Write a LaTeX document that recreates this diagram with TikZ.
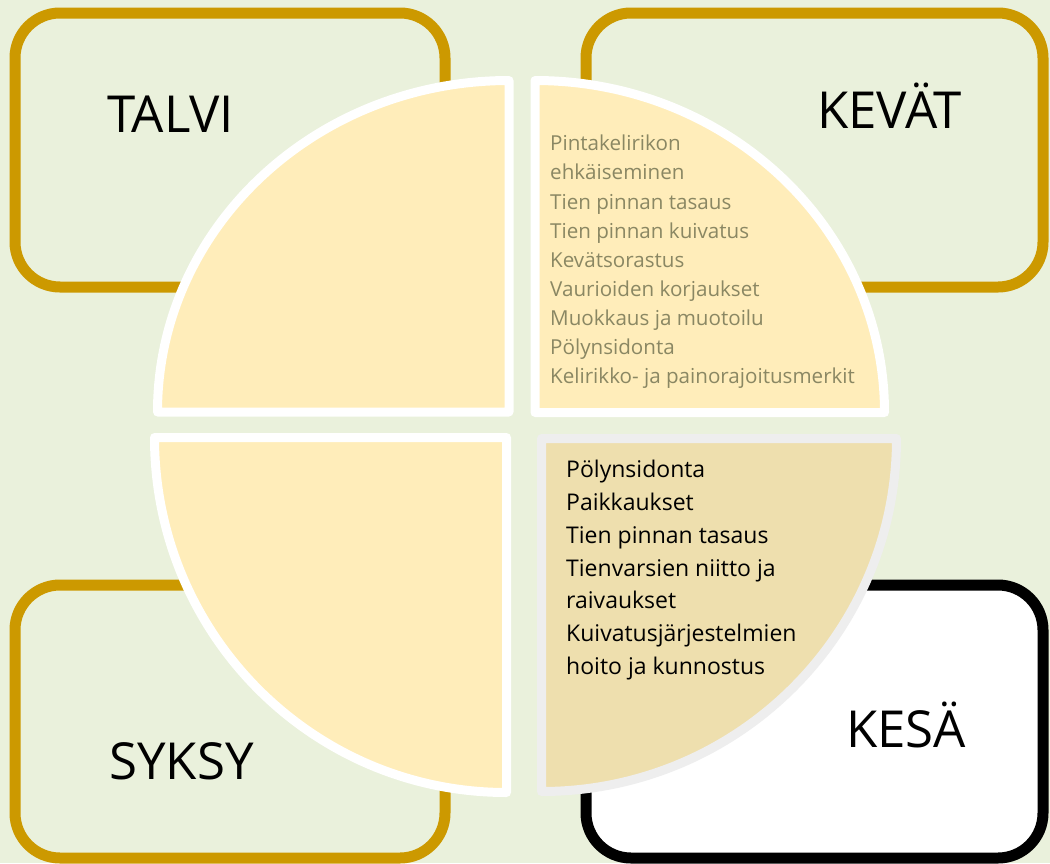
\documentclass[tikz,border=0pt]{standalone}
\usepackage{fontspec}
\setmainfont{Open Sans}
\definecolor{bg}{HTML}{EAF1DC}
\definecolor{gold}{HTML}{CC9900}
\definecolor{pie}{HTML}{FFEDBA}
\definecolor{pietan}{HTML}{EEDFAE}
\definecolor{piegray}{HTML}{EEEEEE}
\definecolor{olive}{HTML}{8A8763}
\tikzset{
  seasonbox/.style={line width=11pt, rounded corners=45pt},
  piece/.style={fill=pie, draw=white, line width=9pt, line join=round},
  title/.style={anchor=base west, inner sep=0pt, font=\fontsize{51}{57}\selectfont},
  listtext/.style={anchor=north west, inner sep=0pt, align=left}
}
\begin{document}
\begin{tikzpicture}[x=1pt,y=1pt]
\useasboundingbox (0,0) rectangle (1050,-863);
\fill[bg] (0,0) rectangle (1050,-863);
% season boxes
\draw[seasonbox, draw=gold] (15,-13) rectangle (445,-287);
\draw[seasonbox, draw=gold] (586,-13) rectangle (1043,-287);
\draw[seasonbox, draw=gold] (15,-585) rectangle (445,-858);
\draw[seasonbox, draw=black, fill=white] (586,-585) rectangle (1043,-858);
% titles
\node[title] (talvi) at (107,-132) {TALVI};
\node[title] (kevat) at (817,-128) {KEVÄT};
\node[title] (syksy) at (109,-779) {SYKSY};
\node[title] (kesa) at (846,-747) {KESÄ};
% pie quarters
\path[piece] (509,-412) -- (157.5,-412) arc[start angle=180, end angle=90, x radius=351.5, y radius=331.5] -- cycle;
\path[piece] (535,-412.5) -- (535,-80.5) arc[start angle=90, end angle=0, x radius=349.5, y radius=332] -- cycle;
\path[piece] (506.5,-437.5) -- (154.5,-437.5) arc[start angle=180, end angle=270, x radius=352, y radius=355] -- cycle;
\path[piece, fill=pietan, draw=piegray] (541.5,-438.5) -- (896.5,-438.5) arc[start angle=0, end angle=-90, x radius=355, y radius=353] -- cycle;
% lists
\node[listtext, text=olive, font=\fontsize{20.6}{29.1}\selectfont] (kevatlist) at (550,-135)
 {Pintakelirikon\\ehkäiseminen\\Tien pinnan tasaus\\Tien pinnan kuivatus\\Kevätsorastus\\Vaurioiden korjaukset\\Muokkaus ja muotoilu\\Pölynsidonta\\Kelirikko- ja painorajoitusmerkit};
\node[listtext, text=black, font=\fontsize{23}{32.8}\selectfont] (kesalist) at (566,-460)
 {Pölynsidonta\\Paikkaukset\\Tien pinnan tasaus\\Tienvarsien niitto ja\\raivaukset\\Kuivatusjärjestelmien\\hoito ja kunnostus};
\end{tikzpicture}
\end{document}
